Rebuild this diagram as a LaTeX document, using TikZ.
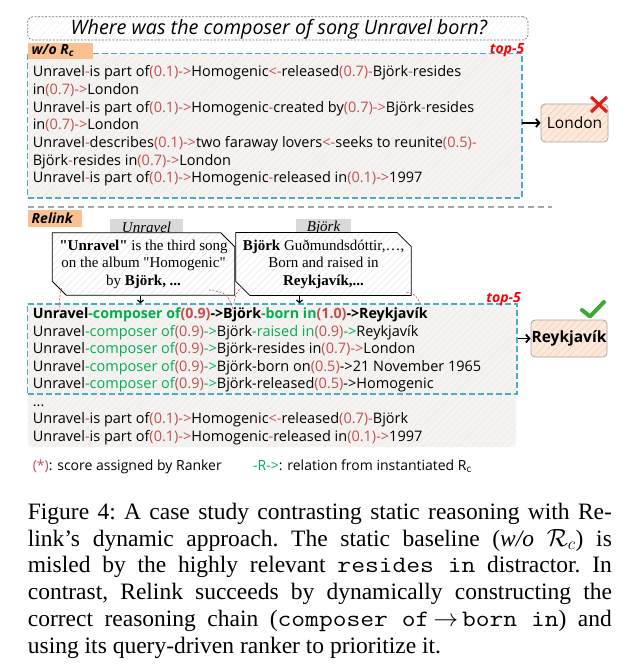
\documentclass[tikz,border=0pt]{standalone}
\usepackage{fontspec}
\setmainfont{Liberation Serif}
\newfontfamily\cf{Open Sans}
\newfontfamily\docfont{Liberation Serif}
\newfontfamily\capmono{Latin Modern Mono}[FakeStretch=1.14]
\usetikzlibrary{arrows.meta,patterns.meta,shapes.misc}
\definecolor{scorered}{RGB}{192,80,77}
\definecolor{relgreen}{RGB}{0,176,80}
\definecolor{boxteal}{RGB}{75,172,198}
\definecolor{labelorange}{RGB}{250,192,144}
\definecolor{panelfill}{RGB}{245,243,241}
\definecolor{panelhatch}{RGB}{237,233,230}
\definecolor{peachfill}{RGB}{253,233,220}
\definecolor{peachhatch}{RGB}{248,203,173}
\definecolor{topred}{RGB}{255,0,0}
\definecolor{xred}{RGB}{226,29,29}
\definecolor{checkgreen}{RGB}{58,170,53}
\definecolor{arcred}{RGB}{205,80,80}
\newcommand{\rd}[1]{\textcolor{scorered}{#1}}
\newcommand{\gr}[1]{\textcolor{relgreen}{#1}}
\newcommand{\cm}[1]{\mbox{\capmono #1}}
\begin{document}
\begin{tikzpicture}[x=1pt,y=-1pt,
  cfont/.style={font=\cf\fontsize{14.5}{16}\selectfont},
  row/.style={anchor=base west,inner sep=0pt,cfont},
  hatchpanel/.style={preaction={fill=panelfill},pattern={Lines[angle=45,distance=5pt,line width=0.5pt]},pattern color=panelhatch},
  tealbox/.style={draw=boxteal,line width=1.3pt,dash pattern=on 6pt off 3pt,inner sep=0pt},
  tag/.style={fill=labelorange,inner sep=0pt},
  tagtext/.style={anchor=west,inner sep=0pt,font=\cf\bfseries\itshape\fontsize{14}{15}\selectfont},
  topfive/.style={anchor=east,inner sep=0pt,text=topred,font=\cf\bfseries\itshape\fontsize{14}{16}\selectfont},
  answer/.style={draw=black!35,line width=0.8pt,rounded corners=4pt,preaction={fill=peachfill},pattern={Lines[angle=45,distance=5pt,line width=0.5pt]},pattern color=peachhatch,inner sep=0pt},
  doc/.style={chamfered rectangle,chamfered rectangle corners={north east,south west},chamfered rectangle xsep=7pt,chamfered rectangle ysep=7pt,draw=black,line width=0.8pt,preaction={fill=white},pattern={Lines[angle=45,distance=5pt,line width=0.4pt]},pattern color=black!10,inner sep=0pt,align=center,font=\docfont\fontsize{15}{17.5}\selectfont},
  doctab/.style={fill=black!15,inner sep=0pt,font=\docfont\itshape\fontsize{15}{17}\selectfont},
  bigarr/.style={-{Straight Barb[length=3.5pt,width=8pt]},line width=1.8pt},
  downarr/.style={-{Straight Barb[length=2.5pt,width=6pt]},line width=1.3pt},
  arc/.style={draw=arcred,line width=0.6pt,dash pattern=on 2pt off 1.5pt},
  caption/.style={anchor=base west,inner sep=0pt,align=left,font=\frenchspacing\fontsize{23.5}{26.7}\selectfont}
]
\useasboundingbox (0,0) rectangle (636,671);

% question
\node[draw=black!55,line width=0.7pt,dash pattern=on 2pt off 1.5pt,rounded corners=5pt,minimum width=500.3pt,minimum height=23.3pt,inner sep=0pt,
  preaction={fill=white},pattern={Lines[angle=45,distance=5pt,line width=0.4pt]},pattern color=black!7] (qbox) at (277.85,28.35) {};
\node[anchor=base,inner sep=0pt,font=\cf\itshape\fontsize{19.8}{21}\selectfont] (q) at (279,34.5) {Where was the composer of song Unravel born?};

% top panel
\node[tealbox,hatchpanel,minimum width=494.3pt,minimum height=144.7pt] (topbox) at (274.85,125.65) {};
\node[tag,minimum width=65.3pt,minimum height=16.3pt] (wo) at (60.35,50.85) {};
\node[tagtext] (wotext) at (31.5,50.5) {w/o R\textsubscript{c}};
\node[topfive] (top5a) at (524.5,50) {top-5};

\node[row] (t1) at (32.6,77) {Unravel\rd{-}is part of\rd{(0.1)->}Homogenic\rd{<-}released\rd{(0.7)-}Björk\rd{-}resides};
\node[row] (t2) at (32.6,94.6) {in\rd{(0.7)->}London};
\node[row] (t3) at (32.6,112.2) {Unravel\rd{-}is part of\rd{(0.1)->}Homogenic\rd{-}created by\rd{(0.7)->}Björk\rd{-}resides};
\node[row] (t4) at (32.6,129.8) {in\rd{(0.7)->}London};
\node[row] (t5) at (32.6,147.4) {Unravel\rd{-}describes\rd{(0.1)->}two faraway lovers\rd{<-}seeks to reunite\rd{(0.5)-}};
\node[row] (t6) at (32.6,165) {Björk\rd{-}resides in\rd{(0.7)->}London};
\node[row] (t7) at (32.6,182.6) {Unravel\rd{-}is part of\rd{(0.1)->}Homogenic\rd{-}released in\rd{(0.1)->}1997};

\node[answer,minimum width=67pt,minimum height=38pt,font=\cf\fontsize{15.5}{17}\selectfont] (london) at (574.5,123) {London};
\draw[bigarr] (topbox.east |- london.west) -- (london.west);
\draw[xred,line width=3.2pt] (591,97) -- (607,112) (607,97) -- (591,112);

% separator
\draw[black!35,line width=2pt,dash pattern=on 6pt off 4pt] (27.7,207) -- (552,207);

% relink
\node[tag,minimum width=53.8pt,minimum height=17pt] (rl) at (54.6,218.5) {};
\node[tagtext] (rltext) at (31.5,218.5) {Relink};

\node[doctab,minimum width=73pt,minimum height=17pt] (tab1) at (146.5,227.5) {Unravel};
\node[doctab,minimum width=55pt,minimum height=17pt] (tab2) at (323.5,227.5) {Björk};
\node[doc,minimum width=171pt,minimum height=56pt] (doc1) at (143.5,264) {\textbf{"Unravel"} is the third song\\on the album "Homogenic"\\by \textbf{Björk, ...}};
\node[doc,minimum width=171pt,minimum height=56pt] (doc2) at (323.5,264) {\textbf{Björk} Guðmundsdóttir,\ldots,\\Born and raised in\\\textbf{Reykjavík,...}};

% bottom panel
\path[hatchpanel,rounded corners=5pt] (27.7,304) rectangle (516,447);
\node[tealbox,minimum width=489.3pt,minimum height=90pt] (botbox) at (272.35,349) {};
\node[topfive] (top5b) at (521,299) {top-5};

\draw[downarr] ([xshift=-3pt]doc1.south) -- ([xshift=-3pt]doc1.south |- botbox.north);
\draw[downarr] ([xshift=-24pt]doc2.south) -- ([xshift=-24pt]doc2.south |- botbox.north);

\draw[arc] (61.5,288) .. controls (59.5,297) .. (59,312);
\draw[arc] (209,290) .. controls (227,293) .. (233.5,310);
\draw[arc] (242,287) .. controls (236,293) .. (233.5,305);
\draw[arc] (406.5,292) .. controls (416,295) .. (421,305);

\node[row,font=\cf\bfseries\fontsize{14.2}{16}\selectfont] (r1) at (32.6,318.8) {Unravel\gr{-composer of}\rd{(0.9)}->Björk\gr{-born in}\rd{(1.0)}->Reykjavík};
\node[row] (r2) at (32.6,336.3) {Unravel\gr{-composer of}\rd{(0.9)}\gr{->}Björk\gr{-raised in}\rd{(0.9)}\gr{->}Reykjavík};
\node[row] (r3) at (32.6,353.8) {Unravel\gr{-composer of}\rd{(0.9)}\gr{->}Björk-resides in\rd{(0.7)->}London};
\node[row] (r4) at (32.6,371.3) {Unravel\gr{-composer of}\rd{(0.9)}\gr{->}Björk-born on\rd{(0.5)}->21 November 1965};
\node[row] (r5) at (32.6,388.8) {Unravel\gr{-composer of}\rd{(0.9)}\gr{->}Björk-released\rd{(0.5)}->Homogenic};
\node[row] (r6) at (32.6,406.3) {...};
\node[row] (r7) at (32.6,423.8) {Unravel\rd{-}is part of\rd{(0.1)->}Homogenic\rd{<-}released\rd{(0.7)-}Björk};
\node[row] (r8) at (32.6,441.3) {Unravel\rd{-}is part of\rd{(0.1)->}Homogenic\rd{-}released in\rd{(0.1)->}1997};

\node[answer,minimum width=76pt,minimum height=37pt,font=\cf\bfseries\fontsize{15.5}{17}\selectfont] (rey) at (569,338.5) {Reykjavík};
\draw[bigarr] (botbox.east |- rey.west) -- (rey.west);
\draw[checkgreen,line width=4pt,line cap=round,line join=round] (582,310) -- (590,316.5) -- (604,302);

% legend
\node[row,font=\cf\fontsize{14}{16}\selectfont] (leg1) at (32.6,470) {\rd{(*)}: score assigned by Ranker};
\node[row,font=\cf\fontsize{14}{16}\selectfont] (leg2) at (253,470) {\gr{-R->}: relation from instantiated R\textsubscript{c}};

% caption (base anchor = baseline of the last line)
\node[caption] (cap) at (27.7,653) {%
\makebox[584pt][s]{Figure 4: A case study contrasting static reasoning with Re-}\\
\makebox[584pt][s]{link's dynamic approach. The static baseline (\textit{w/o} $\mathcal{R}_c$) is}\\
\makebox[584pt][s]{misled by the highly relevant \cm{resides in} distractor. In}\\
\makebox[584pt][s]{contrast, Relink succeeds by dynamically constructing the}\\
\makebox[584pt][s]{correct reasoning chain (\cm{composer of}\,$\rightarrow$\,\cm{born in}) and}\\
using its query-driven ranker to prioritize it.};
\end{tikzpicture}
\end{document}
